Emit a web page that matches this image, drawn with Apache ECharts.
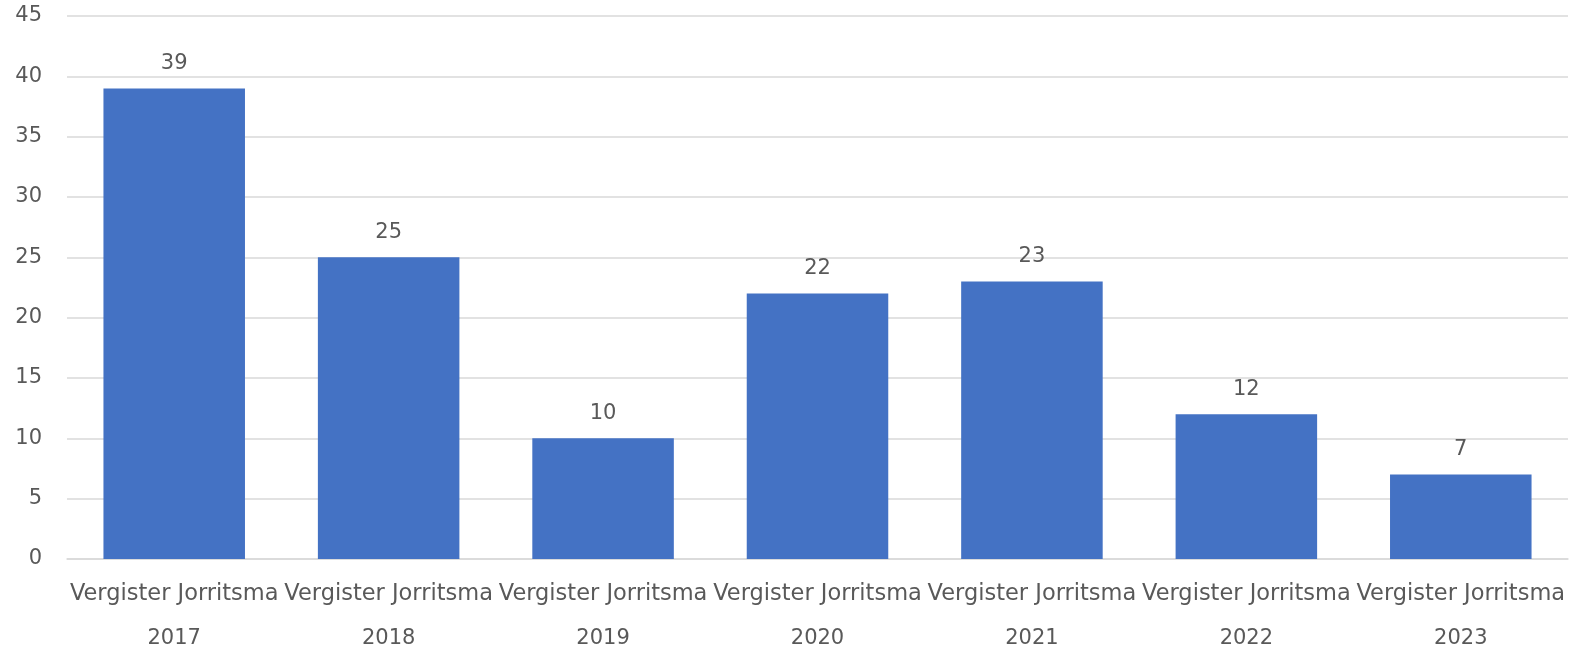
<!DOCTYPE html>
<html>
<head>
<meta charset="utf-8">
<script src="https://cdn.jsdelivr.net/npm/echarts@6/dist/echarts.min.js"></script>
<style>
  html, body { margin: 0; padding: 0; background: #fff; }
  #chart { width: 1573px; height: 650px; }
</style>
</head>
<body>
<div id="chart"></div>
<script>
// data
var years = ['2017', '2018', '2019', '2020', '2021', '2022', '2023'];
var groupName = 'Vergister Jorritsma';
var counts = [39, 25, 10, 22, 23, 12, 7];
var yTicks = { min: 0, max: 45, interval: 5 };

var chart = echarts.init(document.getElementById('chart'));
var textColor = '#595959';
var font = '"DejaVu Sans", sans-serif';

chart.setOption({
    animation: false
    , grid: {
        left: 67
        , right: 5
        , top: 16
        , bottom: 91
    }
    , xAxis: {
        type: 'category'
        , data: years
        , axisTick: { show: false }
        , axisLine: { lineStyle: { color: '#d9d9d9', width: 1.5 } }
        , axisLabel: {
            interval: 0
            , margin: 18
            , color: textColor
            , fontFamily: font
            , formatter: function (value) {
                return '{n|' + groupName + '}\n{y|' + value + '}';
            }
            , rich: {
                n: { fontSize: 22.5, lineHeight: 34, color: textColor, fontFamily: font }
                , y: { fontSize: 21, lineHeight: 56, color: textColor, fontFamily: font }
            }
        }
    }
    , yAxis: {
        type: 'value'
        , min: yTicks.min
        , max: yTicks.max
        , interval: yTicks.interval
        , axisLine: { show: false }
        , axisTick: { show: false }
        , axisLabel: {
            margin: 25
            , color: textColor
            , fontSize: 21
            , fontFamily: font
        }
        , splitLine: { lineStyle: { color: '#d9d9d9', width: 1.5 } }
    }
    , series: [{
        type: 'bar'
        , data: counts
        , barWidth: '66%'
        , itemStyle: { color: '#4472c4' }
        , label: {
            show: true
            , position: 'top'
            , distance: 14
            , color: textColor
            , fontSize: 21
            , fontFamily: font
        }
    }]
});
</script>
</body>
</html>
